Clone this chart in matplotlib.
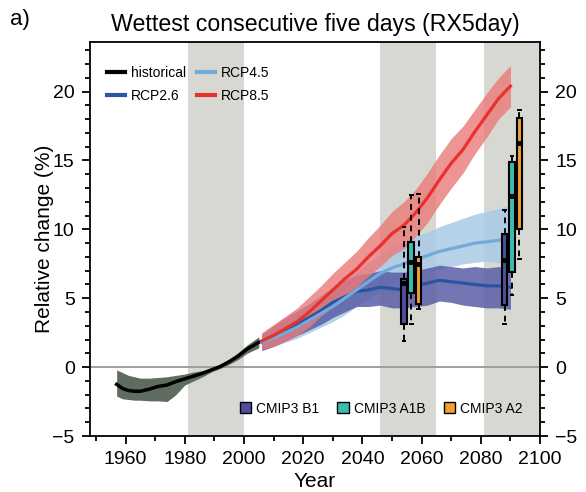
import numpy as np
import matplotlib
matplotlib.use('Agg')
import matplotlib.pyplot as plt
from matplotlib.patches import Patch
from matplotlib.lines import Line2D

plt.rcParams['font.family'] = ['Liberation Sans', 'DejaVu Sans']

# historical run (multi-model mean and spread)
hist_years = [1957, 1959, 1961, 1963, 1965, 1968, 1971, 1974, 1977, 1980, 1983, 1986, 1989, 1992, 1995, 1998, 2001, 2005]
hist_mean = [-1.25, -1.55, -1.7, -1.75, -1.75, -1.6, -1.4, -1.3, -1.05, -0.85, -0.65, -0.45, -0.2, 0.05, 0.4, 0.8, 1.3, 1.8]
hist_hi = [-0.2, -0.4, -0.6, -0.7, -0.8, -0.8, -0.75, -0.7, -0.6, -0.5, -0.35, -0.25, -0.05, 0.15, 0.55, 1.05, 1.6, 2.2]
hist_lo = [-2.1, -2.3, -2.35, -2.4, -2.4, -2.45, -2.45, -2.5, -2.0, -1.3, -1.0, -0.7, -0.35, -0.1, 0.2, 0.55, 1.0, 1.4]

# scenario runs
rcp_years = [2006, 2010, 2014, 2018, 2022, 2026, 2030, 2034, 2038, 2042, 2046,
             2050, 2054, 2058, 2062, 2066, 2070, 2074, 2078, 2082, 2086, 2090]
rcp26_mean = [1.8, 2.2, 2.7, 3.1, 3.6, 4.1, 4.7, 5.1, 5.5, 5.6, 5.8,
              5.7, 5.6, 5.9, 6.1, 6.3, 6.2, 6.1, 6.0, 5.9, 5.9, 5.8]
rcp26_hi = [2.4, 3.0, 3.6, 4.1, 4.6, 5.2, 5.8, 6.3, 6.7, 6.8, 7.0,
            6.9, 6.9, 7.0, 7.2, 7.4, 7.3, 7.2, 7.3, 7.2, 7.3, 7.2]
rcp26_lo = [1.2, 1.5, 1.9, 2.3, 2.7, 3.1, 3.6, 4.0, 4.4, 4.4, 4.5,
            4.3, 4.3, 4.4, 4.5, 4.8, 4.7, 4.5, 4.4, 4.3, 4.3, 4.2]
rcp45_mean = [1.8, 2.1, 2.5, 2.9, 3.4, 3.9, 4.4, 5.0, 5.6, 6.2, 6.8,
              7.2, 7.5, 7.8, 8.1, 8.4, 8.6, 8.8, 9.0, 9.1, 9.2, 9.4]
rcp45_hi = [2.3, 2.7, 3.2, 3.7, 4.3, 4.9, 5.5, 6.2, 6.9, 7.6, 8.2,
            8.7, 9.1, 9.5, 9.8, 10.2, 10.5, 10.8, 11.1, 11.3, 11.5, 11.8]
rcp45_lo = [1.3, 1.5, 1.8, 2.1, 2.5, 2.9, 3.3, 3.8, 4.4, 4.9, 5.5,
            5.9, 6.3, 6.6, 6.9, 7.1, 7.3, 7.5, 7.6, 7.7, 7.6, 7.3]
rcp85_mean = [1.9, 2.3, 2.8, 3.3, 4.0, 4.8, 5.6, 6.4, 7.1, 8.0, 8.8,
              9.7, 10.3, 11.2, 12.3, 13.6, 14.8, 15.8, 17.1, 18.3, 19.5, 20.4]
rcp85_hi = [2.5, 3.1, 3.7, 4.3, 5.1, 5.9, 6.8, 7.6, 8.4, 9.4, 10.3,
            11.3, 12.0, 12.9, 14.1, 15.4, 16.6, 17.5, 18.7, 19.9, 21.0, 21.9]
rcp85_lo = [1.3, 1.5, 1.9, 2.3, 2.9, 3.7, 4.4, 5.2, 5.8, 6.6, 7.3,
            8.1, 8.6, 9.5, 10.5, 11.8, 13.0, 14.1, 15.5, 16.7, 18.0, 18.9]

# CMIP3 box statistics: whisker low, q1, median, q3, whisker high
box_labels = ['CMIP3 B1', 'CMIP3 A1B', 'CMIP3 A2']
box_colors = ['#4f4f9e', '#3dbdb1', '#f0a033']
box_pos_2055 = [2054, 2056.5, 2059]
box_pos_2090 = [2088, 2090.5, 2093]
box_2055 = [[1.9, 3.1, 6.1, 6.4, 10.2],
            [3.1, 5.4, 7.6, 9.1, 12.5],
            [4.2, 4.6, 7.5, 8.0, 12.6]]
box_2090 = [[3.1, 4.5, 7.8, 9.7, 11.4],
            [5.2, 6.9, 12.4, 14.9, 15.3],
            [7.85, 10.0, 16.3, 18.1, 18.7]]

# grey reference periods
periods = [(1981, 2000), (2046, 2065), (2081, 2100)]

fig = plt.figure(figsize=(5.86, 4.92), dpi=100)
ax = fig.add_axes([0.1536, 0.1138, 0.768, 0.8008])

for a, b in periods:
    ax.axvspan(a, b, color='#d8d8d3', lw=0, zorder=0)
ax.axhline(0, color='#9a9a9a', lw=1.3, zorder=1)

ax.fill_between(hist_years, hist_lo, hist_hi, color='#5f6d61', lw=0, zorder=2)
ax.fill_between(rcp_years, rcp45_lo, rcp45_hi, color='#a9cbe6', alpha=0.85, lw=0, zorder=2)
ax.fill_between(rcp_years, rcp26_lo, rcp26_hi, color='#5b5ea6', alpha=0.85, lw=0, zorder=2)
ax.fill_between(rcp_years, rcp85_lo, rcp85_hi, color='#ea7a78', alpha=0.8, lw=0, zorder=2)

ax.plot(hist_years, hist_mean, color='black', lw=2.5, zorder=3)
ax.plot(rcp_years, rcp26_mean, color='#2b55a0', lw=2.3, zorder=3)
ax.plot(rcp_years, rcp45_mean, color='#72aadb', lw=2.3, zorder=3)
ax.plot(rcp_years, rcp85_mean, color='#e8312f', lw=2.3, zorder=3)

for positions, data in [(box_pos_2055, box_2055), (box_pos_2090, box_2090)]:
    stats = [dict(whislo=d[0], q1=d[1], med=d[2], q3=d[3], whishi=d[4]) for d in data]
    bp = ax.bxp(stats, positions=positions, widths=1.9, showfliers=False,
                patch_artist=True, manage_ticks=False, capwidths=0.9,
                boxprops=dict(edgecolor='black', lw=1.5),
                whiskerprops=dict(color='black', lw=1.4, ls=(0, (3, 2.5))),
                capprops=dict(color='black', lw=1.4),
                medianprops=dict(color='black', lw=3.5, solid_capstyle='butt'))
    for patch, c in zip(bp['boxes'], box_colors):
        patch.set_facecolor(c)
    for k in bp:
        for art in bp[k]:
            art.set_zorder(4)

ax.set_xlim(1948, 2100)
ax.set_ylim(-5, 23.6)
ax.set_xticks(np.arange(1960, 2101, 20))
ax.set_xticks(np.arange(1950, 2101, 10), minor=True)
ax.set_yticks(np.arange(-5, 21, 5))
ax.set_yticks(np.arange(-5, 24, 1), minor=True)
ax.tick_params(which='both', direction='out', right=True, labelright=True, top=False,
               labelsize=14, width=1.3)
ax.tick_params(which='major', length=6, pad=5)
ax.tick_params(which='minor', length=3.5)
for s in ax.spines.values():
    s.set_linewidth(1.3)

ax.set_xlabel('Year', fontsize=15, labelpad=3)
ax.set_ylabel('Relative change (%)', fontsize=15, labelpad=-1)
ax.set_title('Wettest consecutive five days (RX5day)', fontsize=16.7, pad=8)
fig.text(0.017, 0.96, 'a)', fontsize=16, ha='left', va='center')

line_handles = [Line2D([], [], color='black', lw=3),
                Line2D([], [], color='#2b55a0', lw=3),
                Line2D([], [], color='#72aadb', lw=3),
                Line2D([], [], color='#e8312f', lw=3)]
leg1 = ax.legend(line_handles, ['historical', 'RCP2.6', 'RCP4.5', 'RCP8.5'], ncol=2,
                 loc='upper left', bbox_to_anchor=(0.01, 0.97), frameon=False,
                 fontsize=10, handlelength=1.3, handletextpad=0.4, columnspacing=0.8,
                 labelspacing=0.6)
ax.add_artist(leg1)
box_handles = [Patch(facecolor=c, edgecolor='black', lw=1) for c in box_colors]
ax.legend(box_handles, box_labels, ncol=3, loc='lower right', bbox_to_anchor=(0.99, 0.02),
          frameon=False, fontsize=10, handlelength=0.8, handleheight=0.8,
          handletextpad=0.4, columnspacing=1.3)

fig.savefig('out.png', dpi=100)
